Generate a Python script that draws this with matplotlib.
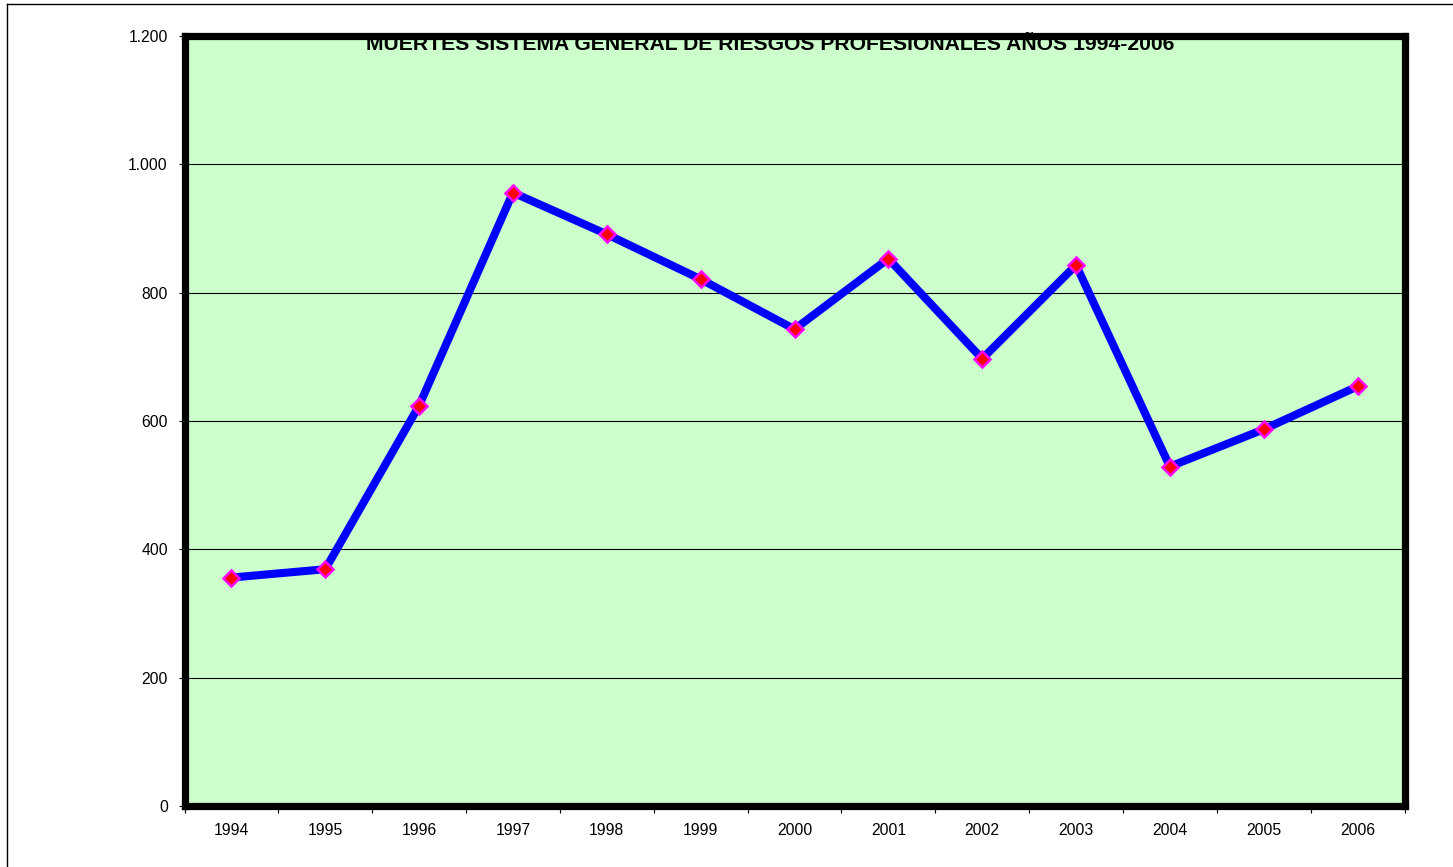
import matplotlib
matplotlib.use('Agg')
import matplotlib.pyplot as plt
from matplotlib.lines import Line2D
from matplotlib.ticker import FuncFormatter, FixedLocator

plt.rcParams['font.family'] = ['Liberation Sans', 'DejaVu Sans']

years = ['1994', '1995', '1996', '1997', '1998', '1999', '2000',
         '2001', '2002', '2003', '2004', '2005', '2006']
deaths = [356, 369, 624, 956, 891, 821, 743, 853, 697, 843, 529, 587, 654]
title = 'MUERTES SISTEMA GENERAL DE RIESGOS PROFESIONALES AÑOS 1994-2006'

W, H = 1453, 867
fig = plt.figure(figsize=(W / 100, H / 100), dpi=100)
ax = fig.add_axes([184.5 / W, 1 - 806 / H, 1220 / W, 770 / H])
ax.set_facecolor('#CCFFCC')

x = list(range(len(years)))
ax.plot(x, deaths, color='#0000FF', lw=5.8, zorder=3,
        marker='D', ms=8.5, mfc='#FF0000', mec='#FF00FF', mew=1.8)

ax.set_xlim(-0.5, len(years) - 0.5)
ax.set_ylim(0, 1200)
ax.set_yticks(range(0, 1201, 200))
ax.yaxis.set_major_formatter(FuncFormatter(lambda v, p: f'{int(v):,}'.replace(',', '.')))
ax.grid(axis='y', color='black', lw=0.8)
ax.set_axisbelow(True)

ax.set_xticks(x)
ax.set_xticklabels(years)
ax.xaxis.set_minor_locator(FixedLocator([i - 0.5 for i in range(len(years) + 1)]))
ax.tick_params(axis='x', which='major', length=0, pad=12, labelsize=11.3)
ax.tick_params(axis='x', which='minor', length=5, width=0.8, direction='out')
ax.tick_params(axis='y', length=4, width=0.8, pad=8, labelsize=11.3)

for s in ax.spines.values():
    s.set_linewidth(5.2)
    s.set_color('black')
    s.set_zorder(5)

ax.text((770 - 184.5) / 1220, 1.0 - 8 / 770, title, transform=ax.transAxes,
        ha='center', va='center', fontsize=15.2, fontweight='bold', zorder=2)

# outer chart border
fig.add_artist(Line2D([7 / W, 1], [1 - 4 / H, 1 - 4 / H], color='black', lw=1, transform=fig.transFigure))
fig.add_artist(Line2D([7 / W, 7 / W], [0, 1 - 4 / H], color='black', lw=1, transform=fig.transFigure))

fig.savefig('out.png', dpi=100)
